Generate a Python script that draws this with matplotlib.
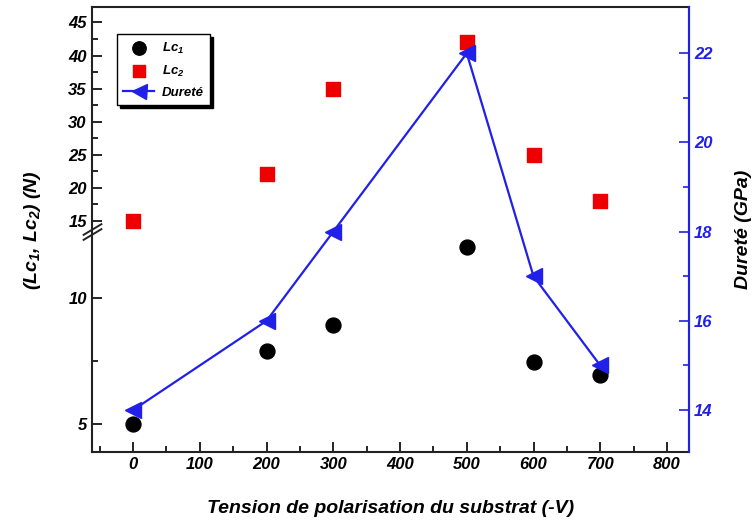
import matplotlib.pyplot as plt
import numpy as np

# tension de polarisation (-V)
tension = [0, 200, 300, 500, 600, 700]
lc1 = [5.0, 7.9, 8.9, 12.0, 7.45, 6.95]   # N
lc2 = [15, 22, 35, 42, 25, 18]           # N
durete = [14, 16, 18, 22, 17, 15]        # GPa

# broken left axis: lower part 5-12 stretched, upper part 15-45 compressed
BRK = 12.34
K = 6.6 / 25.3


def fwd(y):
    y = np.asarray(y, float)
    return np.where(y <= BRK, y, BRK + (y - BRK) * K)


def inv(y):
    y = np.asarray(y, float)
    return np.where(y <= BRK, y, BRK + (y - BRK) / K)


plt.rcParams['font.family'] = ['Liberation Sans', 'DejaVu Sans']
plt.rcParams['font.weight'] = 'bold'
plt.rcParams['font.style'] = 'italic'
plt.rcParams['axes.labelweight'] = 'bold'
plt.rcParams['mathtext.fontset'] = 'custom'
plt.rcParams['mathtext.rm'] = 'Liberation Sans:italic:bold'
plt.rcParams['mathtext.it'] = 'Liberation Sans:italic:bold'
plt.rcParams['mathtext.default'] = 'regular'

blue = '#2020e8'

fig = plt.figure(figsize=(7.54, 5.29), dpi=100)
ax = fig.add_axes([0.1216, 0.1456, 0.7922, 0.8406])
ax.set_yscale('function', functions=(fwd, inv))
ax.set_xlim(-62, 833)
ax.set_ylim(3.9, 47.3)

h1 = ax.scatter(tension, lc1, s=115, color='black', marker='o', zorder=3)
h2 = ax.scatter(tension, lc2, s=90, color='#ee0000', marker='s', zorder=3)

ax.set_xticks(np.arange(0, 801, 100))
ax.set_xticks(np.arange(-50, 801, 100), minor=True)
ax.set_yticks([5, 10, 15, 20, 25, 30, 35, 40, 45])
ax.set_yticks([7.5, 17.5, 22.5, 27.5, 32.5, 37.5, 42.5], minor=True)
ax.tick_params(axis='both', which='both', direction='in', top=False,
               labelsize=12, width=1.2)
ax.tick_params(which='major', length=7)
ax.tick_params(which='minor', length=4)
for s in ax.spines.values():
    s.set_linewidth(1.5)
    s.set_color('#222222')

# break marks on the left spine
brk_tr = ax.get_yaxis_transform()
ax.plot([0, 0], [BRK + 1.4, BRK + 0.6], transform=brk_tr, ls='none',
        marker=[(-1, -0.6), (1, 0.6)], ms=14, mew=1.4, color='#222222',
        clip_on=False, zorder=5)

ax.set_xlabel('Tension de polarisation du substrat (-V)', fontsize=14, labelpad=20)
ax.set_ylabel('(Lc$_1$, Lc$_2$) (N)', fontsize=14, labelpad=18)

ax2 = ax.twinx()
h3, = ax2.plot(tension, durete, color=blue, lw=1.6, marker='<', ms=12,
               zorder=3)
ax2.set_ylim(13.06, 23.03)
ax2.set_yticks([14, 16, 18, 20, 22])
ax2.set_yticks([15, 17, 19, 21], minor=True)
ax2.tick_params(axis='y', which='both', direction='in', colors=blue,
                labelsize=12, width=1.2)
ax2.tick_params(which='major', length=7)
ax2.tick_params(which='minor', length=4)
ax2.spines['right'].set_color(blue)
ax2.spines['right'].set_linewidth(1.5)
for k in ['left', 'top', 'bottom']:
    ax2.spines[k].set_visible(False)
ax2.set_ylabel('Dureté (GPa)', fontsize=14, color='black', labelpad=16)

leg = ax2.legend([h1, h2, h3], ['Lc$_1$', 'Lc$_2$', 'Dureté'],
                 loc='upper left', bbox_to_anchor=(0.042, 0.94),
                 borderaxespad=0, fontsize=9.5, fancybox=False,
                 edgecolor='black', framealpha=1,
                 shadow={'color': 'black', 'alpha': 1},
                 handlelength=2.3, markerscale=0.9, labelspacing=0.6,
                 borderpad=0.5, handletextpad=0.6)
leg.get_frame().set_linewidth(1.0)

plt.savefig('out.png', dpi=100)
